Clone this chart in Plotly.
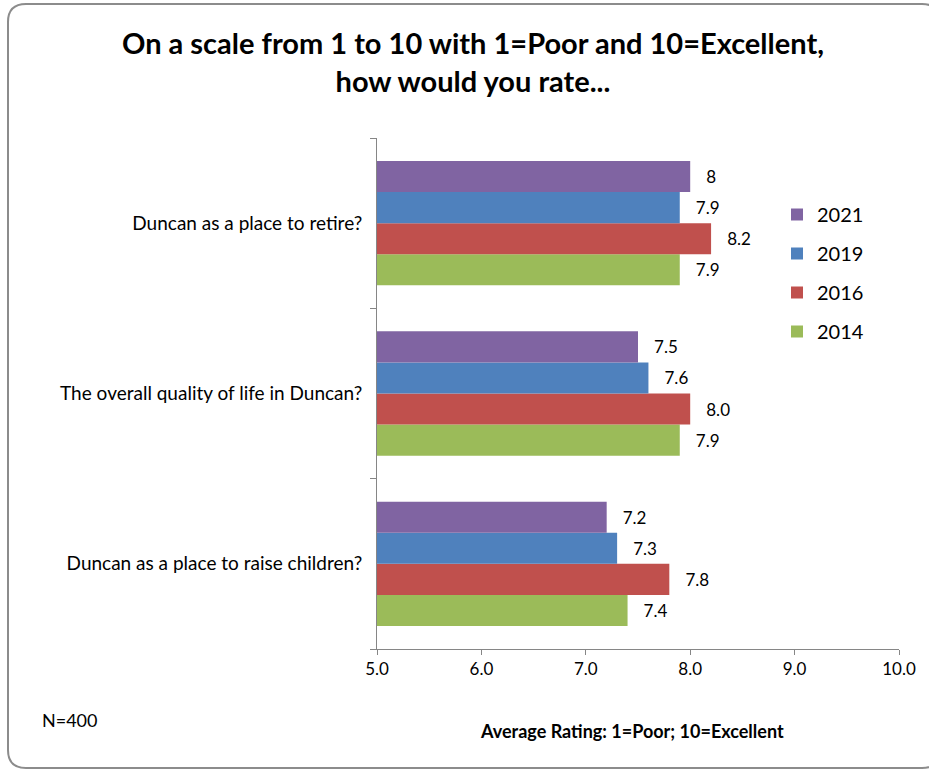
import plotly.graph_objects as go

# ---- data ----
categories = [
    "Duncan as a place to raise children?",
    "The overall quality of life in Duncan?",
    "Duncan as a place to retire?",
]
years = ["2014", "2016", "2019", "2021"]
values = {
    "2014": [7.4, 7.9, 7.9],
    "2016": [7.8, 8.0, 8.2],
    "2019": [7.3, 7.6, 7.9],
    "2021": [7.2, 7.5, 8.0],
}
labels = {
    "2014": ["7.4", "7.9", "7.9"],
    "2016": ["7.8", "8.0", "8.2"],
    "2019": ["7.3", "7.6", "7.9"],
    "2021": ["7.2", "7.5", "8"],
}
legend_rank = {"2021": 1, "2019": 2, "2016": 3, "2014": 4}
x_ticks = [5, 6, 7, 8, 9, 10]
x_tick_labels = ["5.0", "6.0", "7.0", "8.0", "9.0", "10.0"]
colors = {"2014": "#9BBB59", "2016": "#C0504D", "2019": "#4F81BD", "2021": "#8064A2"}

FONT = "Lato"
W, H = 929, 770
L, R, T, B = 377, 899, 138, 649

fig = go.Figure()
for yr in years:
    fig.add_trace(go.Bar(
        y=categories, x=values[yr], orientation="h", name=yr,
        marker=dict(color=colors[yr], line=dict(width=0)),
        text=labels[yr], texttemplate="\u00a0\u00a0\u00a0%{text}",
        textposition="outside", textfont=dict(family=FONT, size=17, color="black"),
        legendgroup=yr, legendrank=legend_rank[yr],
    ))


def px(x):
    return (x - L) / (R - L)


def py(y):
    return (B - y) / (B - T)


# rounded border
x0, x1, y0, y1, r = 8, 940, 4, 768, 18
path = (f"M {px(x0 + r)},{py(y0)} L {px(x1 - r)},{py(y0)} Q {px(x1)},{py(y0)} {px(x1)},{py(y0 + r)} "
        f"L {px(x1)},{py(y1 - r)} Q {px(x1)},{py(y1)} {px(x1 - r)},{py(y1)} "
        f"L {px(x0 + r)},{py(y1)} Q {px(x0)},{py(y1)} {px(x0)},{py(y1 - r)} "
        f"L {px(x0)},{py(y0 + r)} Q {px(x0)},{py(y0)} {px(x0 + r)},{py(y0)} Z")

fig.update_layout(
    width=W, height=H,
    margin=dict(l=L, r=W - R, t=T, b=H - B),
    paper_bgcolor="white", plot_bgcolor="white",
    barmode="group", bargap=0.27, bargroupgap=0,
    font=dict(family=FONT, color="black"),
    xaxis=dict(
        range=[5, 10], tickvals=x_ticks, ticktext=x_tick_labels,
        showgrid=False, zeroline=False, showline=True, linecolor="#868686", linewidth=1,
        ticks="outside", ticklen=5, tickcolor="#868686",
        tickfont=dict(family=FONT, size=17, color="black"),
    ),
    yaxis=dict(
        categoryorder="array", categoryarray=categories,
        showgrid=False, zeroline=False, showline=True, linecolor="#868686", linewidth=1,
        ticks="outside", tickson="boundaries", ticklen=6, tickcolor="#868686",
        ticklabelstandoff=10,
        tickfont=dict(family=FONT, size=19, color="black"),
    ),
    legend=dict(
        traceorder="grouped", tracegroupgap=10,
        x=px(777), y=py(195), xanchor="left", yanchor="top",
        font=dict(family=FONT, size=20, color="black"),
        bgcolor="rgba(0,0,0,0)",
    ),
    shapes=[dict(type="path", xref="paper", yref="paper", path=path,
                 line=dict(color="#8C8C8C", width=2), layer="above")],
    annotations=[
        dict(text="<b>On a scale from 1 to 10 with 1=Poor and 10=Excellent,<br>how would you rate...</b>",
             xref="paper", yref="paper", x=px(473), y=py(61), xanchor="center", yanchor="middle",
             showarrow=False, font=dict(family=FONT, size=29, color="black")),
        dict(text="<b>Average Rating: 1=Poor; 10=Excellent</b>", xref="paper", yref="paper",
             x=px(632), y=py(731), xanchor="center", yanchor="middle", showarrow=False,
             font=dict(family=FONT, size=18, color="black")),
        dict(text="N=400", xref="paper", yref="paper",
             x=px(40), y=py(720), xanchor="left", yanchor="middle", showarrow=False,
             font=dict(family=FONT, size=18, color="black")),
    ],
)

fig.write_html("out.html")
